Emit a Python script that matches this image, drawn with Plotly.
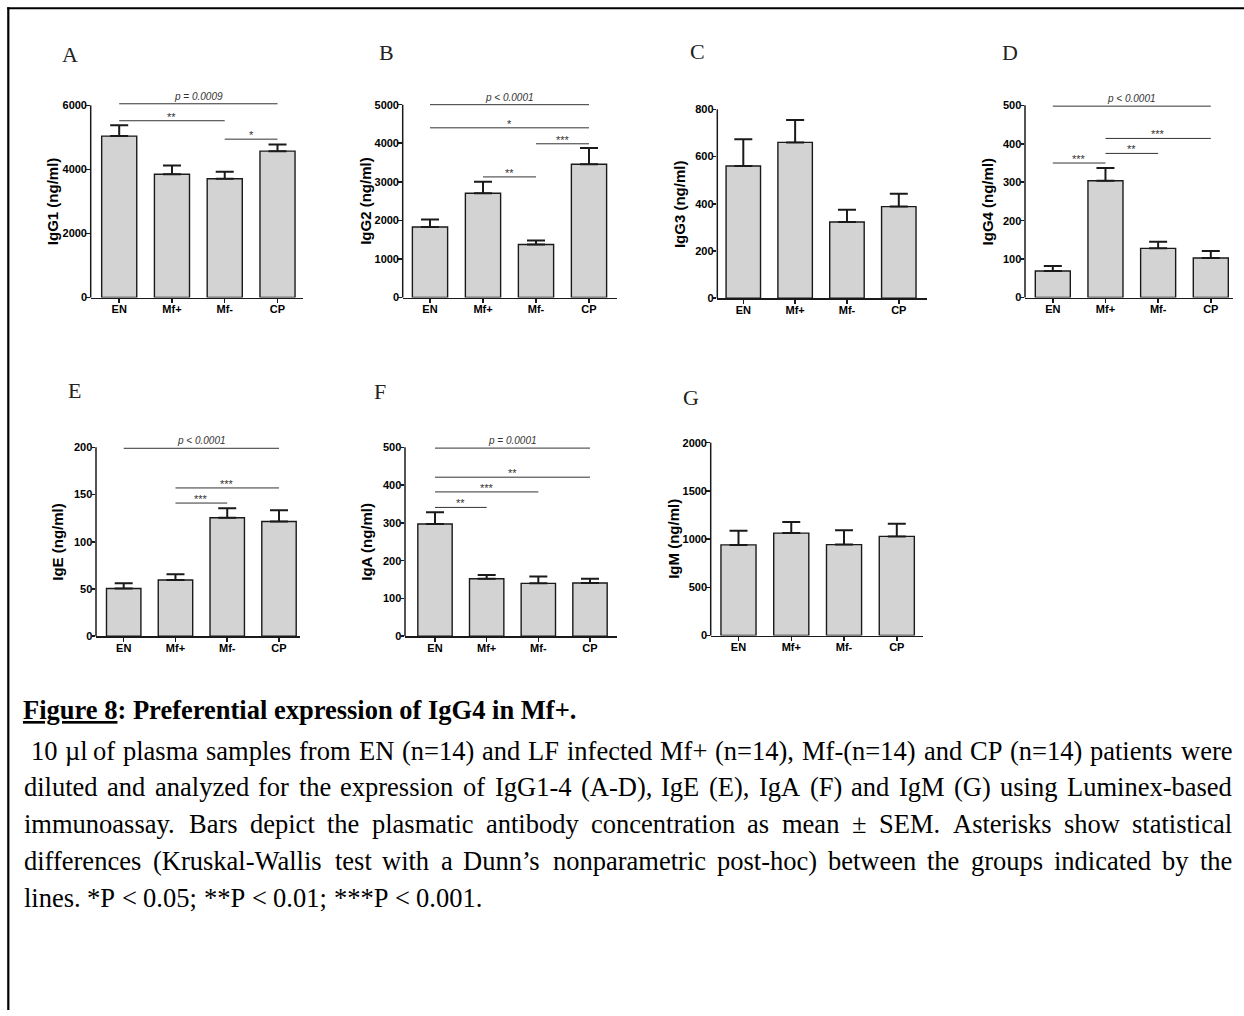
import plotly.graph_objects as go

W, H = 1244, 1016

# ---------------- data ----------------
categories = ["EN", "Mf+", "Mf-", "CP"]

igg1_mean = [5040, 3850, 3710, 4570]
igg1_top = [5380, 4120, 3930, 4780]
igg2_mean = [1830, 2705, 1375, 3455]
igg2_top = [2020, 3000, 1480, 3875]
igg3_mean = [560, 660, 323, 388]
igg3_top = [673, 755, 375, 443]
igg4_mean = [69, 304, 128, 103]
igg4_top = [82, 337, 145, 121]
ige_mean = [50.5, 59.5, 125.5, 121.5]
ige_top = [56, 65.5, 135.5, 133.5]
iga_mean = [297, 152, 140, 141]
iga_top = [328, 162, 158, 152]
igm_mean = [940, 1062, 943, 1028]
igm_top = [1087, 1178, 1093, 1160]

y_titles = ["IgG1 (ng/ml)", "IgG2 (ng/ml)", "IgG3 (ng/ml)", "IgG4 (ng/ml)",
            "IgE (ng/ml)", "IgA (ng/ml)", "IgM (ng/ml)"]
panel_letters = ["A", "B", "C", "D", "E", "F", "G"]

igg1_ticks = [0, 2000, 4000, 6000]
igg2_ticks = [0, 1000, 2000, 3000, 4000, 5000]
igg3_ticks = [0, 200, 400, 600, 800]
igg4_ticks = [0, 100, 200, 300, 400, 500]
ige_ticks = [0, 50, 100, 150, 200]
iga_ticks = [0, 100, 200, 300, 400, 500]
igm_ticks = [0, 500, 1000, 1500, 2000]

# significance brackets: (from group, to group, height, label)
igg1_sig = [(0, 3, 6050, "p = 0.0009"), (0, 2, 5520, "**"), (2, 3, 4945, "*")]
igg2_sig = [(0, 3, 5000, "p &lt; 0.0001"), (0, 3, 4400, "*"), (2, 3, 3986, "***"), (1, 2, 3127, "**")]
igg3_sig = []
igg4_sig = [(0, 3, 498, "p &lt; 0.0001"), (1, 3, 414, "***"), (1, 2, 375, "**"), (0, 1, 350, "***")]
ige_sig = [(0, 3, 199, "p &lt; 0.0001"), (1, 3, 157, "***"), (1, 2, 141, "***")]
iga_sig = [(0, 3, 498, "p = 0.0001"), (0, 3, 421, "**"), (0, 2, 382, "***"), (0, 1, 341, "**")]
igm_sig = []

caption_title = "<u>Figure 8</u>: Preferential expression of IgG4 in Mf+."
caption_lines = [
    " 10 µl of plasma samples from EN (n=14) and LF infected Mf+ (n=14), Mf-(n=14) and CP (n=14) patients were",
    "diluted and analyzed for the expression of IgG1-4 (A-D), IgE (E), IgA (F) and IgM (G) using Luminex-based",
    "immunoassay. Bars depict the plasmatic antibody concentration as mean ± SEM. Asterisks show statistical",
    "differences (Kruskal-Wallis test with a Dunn’s nonparametric post-hoc) between the groups indicated by the",
    "lines. *P < 0.05; **P < 0.01; ***P < 0.001.",
]

# ---------------- layout geometry (pixels) ----------------
geo = [
    dict(left=90.7, c0=119.2, c3=277.5, right=303.0, y0=299.3, ytp=106.0, lx=70, ly=55),
    dict(left=402.7, c0=430.0, c3=589.0, right=616.7, y0=299.3, ytp=105.3, lx=386, ly=53),
    dict(left=717.3, c0=743.3, c3=898.8, right=926.7, y0=300.0, ytp=110.0, lx=698, ly=52),
    dict(left=1025.0, c0=1052.8, c3=1210.8, right=1233.0, y0=299.3, ytp=106.0, lx=1010, ly=53),
    dict(left=96.0, c0=123.7, c3=279.0, right=300.0, y0=640.0, ytp=450.0, lx=74, ly=393),
    dict(left=405.0, c0=435.0, c3=590.0, right=616.7, y0=640.0, ytp=450.0, lx=380, ly=394),
    dict(left=710.7, c0=738.5, c3=896.8, right=923.3, y0=639.3, ytp=445.3, lx=691, ly=400),
]

panels = [
    (igg1_mean, igg1_top, igg1_ticks, igg1_sig),
    (igg2_mean, igg2_top, igg2_ticks, igg2_sig),
    (igg3_mean, igg3_top, igg3_ticks, igg3_sig),
    (igg4_mean, igg4_top, igg4_ticks, igg4_sig),
    (ige_mean, ige_top, ige_ticks, ige_sig),
    (iga_mean, iga_top, iga_ticks, iga_sig),
    (igm_mean, igm_top, igm_ticks, igm_sig),
]

INK = "#1a1a1a"
LINE = "#333333"
BAR = "#d3d3d3"
SANS = "Liberation Sans, Arial, sans-serif"
SERIF = "Liberation Serif, Times New Roman, serif"

fig = go.Figure()
annotations = []
shapes = []

for i, ((mean, top, ticks, sig), g, title, letter) in enumerate(zip(panels, geo, y_titles, panel_letters), start=1):
    sfx = "" if i == 1 else str(i)
    xs = list(range(len(categories)))
    fig.add_trace(go.Bar(
        x=xs, y=mean, width=0.665,
        marker=dict(color=BAR, line=dict(color=INK, width=1.4)),
        error_y=dict(type="data", symmetric=False,
                     array=[t - m for t, m in zip(top, mean)],
                     arrayminus=[0] * len(mean),
                     color=INK, thickness=2, width=9),
        xaxis="x" + sfx, yaxis="y" + sfx, hoverinfo="skip", showlegend=False,
    ))
    unit = (g["c3"] - g["c0"]) / 3.0
    xr = [(g["left"] - g["c0"]) / unit, 3 + (g["right"] - g["c3"]) / unit]
    ytop = ticks[-1]
    ext = ytop * 1.06
    ppu = (g["y0"] - g["ytp"]) / ytop
    top_px = g["y0"] - ext * ppu
    fig.update_layout(**{
        "xaxis" + sfx: dict(
            domain=[g["left"] / W, g["right"] / W], range=xr, anchor="y" + sfx,
            tickvals=xs, ticktext=categories, showline=True, linecolor=INK, linewidth=1.5,
            ticks="outside", ticklen=4, tickwidth=1.5, tickcolor=INK, ticklabelstandoff=-3,
            tickfont=dict(family=SANS, size=11, color="black", weight="bold"),
            showgrid=False, zeroline=False, fixedrange=True),
        "yaxis" + sfx: dict(
            domain=[1 - g["y0"] / H, 1 - top_px / H], range=[0, ext], anchor="x" + sfx,
            tickvals=ticks, ticktext=[str(t) for t in ticks], showline=False,
            ticks="outside", ticklen=3.5, tickwidth=1.5, tickcolor=INK, ticklabelstandoff=-3,
            tickfont=dict(family=SANS, size=11, color="black", weight="bold"),
            showgrid=False, zeroline=False, fixedrange=True),
    })
    # y axis line up to the top tick
    shapes.append(dict(type="line", xref="x" + sfx + " domain", yref="y" + sfx + " domain",
                       x0=0, x1=0, y0=0, y1=ytop / ext, line=dict(color=INK, width=1.5)))
    # y title
    annotations.append(dict(xref="x" + sfx + " domain", yref="y" + sfx + " domain",
                            x=0, y=(ytop / 2) / ext, xshift=-38, xanchor="center", yanchor="middle",
                            textangle=-90, showarrow=False, text=title,
                            font=dict(family=SANS, size=15, color="black", weight="bold")))
    # panel letter
    annotations.append(dict(xref="paper", yref="paper", x=g["lx"] / W, y=1 - g["ly"] / H,
                            xanchor="center", yanchor="middle", showarrow=False, text=letter,
                            font=dict(family=SERIF, size=22, color="#222222")))
    # significance brackets
    for a, b, h, lab in sig:
        shapes.append(dict(type="line", xref="x" + sfx, yref="y" + sfx, x0=a, x1=b, y0=h, y1=h,
                           line=dict(color=LINE, width=1)))
        is_p = lab.startswith("p")
        annotations.append(dict(xref="x" + sfx, yref="y" + sfx, x=(a + b) / 2, y=h,
                                xanchor="center", yanchor="bottom", showarrow=False,
                                text=("<i>" + lab + "</i>") if is_p else lab,
                                yshift=0 if is_p else -4,
                                font=dict(family=SANS, size=10 if is_p else 11, color=LINE)))

# ---------------- caption ----------------
CAP_SIZE = 26.5
annotations.append(dict(xref="paper", yref="paper", x=22 / W, y=1 - 714 / H, xanchor="left",
                        yanchor="middle", showarrow=False, text=caption_title, borderpad=0,
                        font=dict(family=SERIF, size=CAP_SIZE, color="black", weight="bold")))

TNR = {' ': 250, '(': 333, ')': 333, '*': 500, '+': 564, ',': 250, '-': 333, '.': 250, '/': 278,
       ':': 278, ';': 278, '<': 564, '=': 564, '>': 564, '’': 333, '±': 564, 'µ': 500,
       'A': 722, 'B': 667, 'C': 667, 'D': 722, 'E': 611, 'F': 556, 'G': 722, 'H': 722, 'I': 333,
       'J': 389, 'K': 722, 'L': 611, 'M': 889, 'N': 722, 'O': 722, 'P': 556, 'Q': 722, 'R': 667,
       'S': 556, 'T': 611, 'U': 722, 'V': 722, 'W': 944, 'X': 722, 'Y': 722, 'Z': 611,
       'a': 444, 'b': 500, 'c': 444, 'd': 500, 'e': 444, 'f': 333, 'g': 500, 'h': 500, 'i': 278,
       'j': 278, 'k': 500, 'l': 278, 'm': 778, 'n': 500, 'o': 500, 'p': 500, 'q': 500, 'r': 333,
       's': 389, 't': 278, 'u': 500, 'v': 500, 'w': 722, 'x': 500, 'y': 500, 'z': 444}
for ch in "0123456789":
    TNR[ch] = 500


def text_w(s):
    return sum(TNR.get(c, 500) for c in s) / 1000.0 * CAP_SIZE


L_PX, R_PX = 23.0, 1231.0
line_y = [755, 792, 829, 866, 903]
for li, (line, yy) in enumerate(zip(caption_lines, line_y)):
    start = L_PX
    if line.startswith(" "):
        start += text_w(" ")
    words = line.strip().split(" ")
    space = text_w(" ")
    if li < len(caption_lines) - 1:
        natural = sum(text_w(w) for w in words) + space * (len(words) - 1)
        space += (R_PX - start - natural) / (len(words) - 1)
    xcur = start
    for w in words:
        annotations.append(dict(xref="paper", yref="paper", x=xcur / W, y=1 - yy / H,
                                xanchor="left", yanchor="middle", showarrow=False, borderpad=0,
                                text=w.replace("<", "&lt;"),
                                font=dict(family=SERIF, size=CAP_SIZE, color="black")))
        xcur += text_w(w) + space

# page frame lines (left and top)
shapes.append(dict(type="line", xref="paper", yref="paper", x0=8.3 / W, x1=8.3 / W,
                   y0=0, y1=1 - 7.3 / H, line=dict(color="black", width=2.2)))
shapes.append(dict(type="line", xref="paper", yref="paper", x0=7.2 / W, x1=1,
                   y0=1 - 8.3 / H, y1=1 - 8.3 / H, line=dict(color="black", width=2.2)))

fig.update_layout(width=W, height=H, margin=dict(l=0, r=0, t=0, b=0),
                  paper_bgcolor="white", plot_bgcolor="rgba(0,0,0,0)",
                  showlegend=False, bargap=0.3, annotations=annotations, shapes=shapes)

fig.write_html("out.html", config={"displayModeBar": False, "staticPlot": True},
               post_script="document.body.style.margin='0';document.body.style.overflow='hidden';")
